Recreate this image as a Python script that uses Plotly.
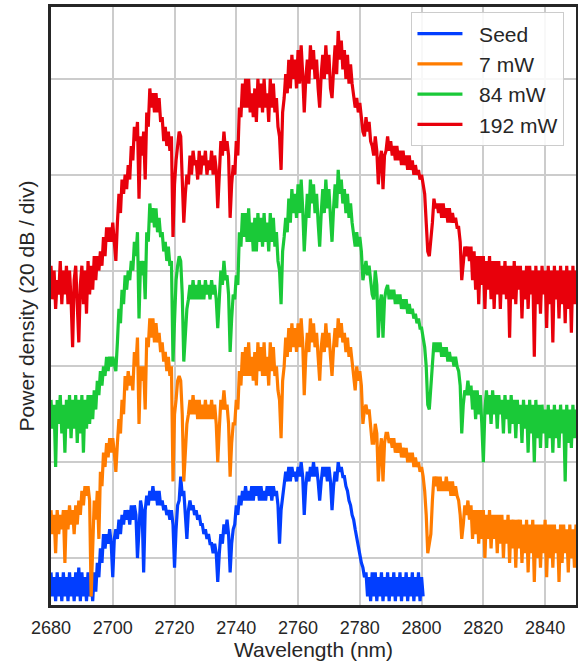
import plotly.graph_objects as go

# Wavelength sampling grid (nm), 0.5 nm spacing
wavelength = [2680 + 0.5 * i for i in range(341)]        # 2680 ... 2850
wavelength_seed = [2680 + 0.5 * i for i in range(242)]   # 2680 ... 2800.5

# Relative power density (dB, traces offset for clarity)
seed = [
    -3, -8, -4, -9, -3, -8, -4, -9, -3, -8,
    -4, -9, -3, -8, -4, -9, -3, -8, -2, -9,
    -3, -8, -4, -9, -3, -8, -4, -9, -3, -7,
    -1, -4, 2, -1, 5, 2, 5, 3, 6, 3,
    -4, 4, 6, 4, 8, 5, 9, 7, 10, 8,
    10, 7, 11, 8, 11, 9, 0, 8, 12, 10,
    -3, 10, 13, 11, 14, 12, 15, 12, 14, 11,
    14, 11, 12, 10, 11, 9, 10, 8, 10, 7,
    -2, 6, 11, 12, 17, 13, 14, 9, 4, 10,
    12, 10, 11, 9, 10, 8, 9, 7, 7, 5,
    6, 4, 5, 3, 3, 1, 3, 1, -5, 1,
    5, 3, 7, 5, 8, 5, -3, 3, 6, 7,
    11, 9, 13, 11, 14, 12, 15, 12, 14, 12,
    15, 12, 15, 13, 15, 12, 15, 12, 14, 12,
    15, 13, 15, 12, 15, 13, 14, 11, 3, 10,
    13, 15, 18, 16, 19, 16, 19, 17, 18, 16,
    19, 17, 20, 17, 9, 15, 18, 16, 19, 17,
    20, 17, 19, 16, 12, 16, 19, 17, 19, 16,
    19, 16, 10, 15, 18, 16, 20, 18, 19, 17,
    17, 15, 14, 12, 11, 9, 8, 6, 4, 2,
    1, -1, -2, -4, -3, -8, -4, -9, -3, -8,
    -3, -9, -4, -8, -3, -9, -4, -8, -3, -9,
    -4, -8, -3, -9, -4, -8, -3, -9, -4, -8,
    -3, -9, -4, -8, -3, -9, -4, -8, -3, -9,
    -4, -8,
]

p7mw = [
    10, 5, 9, 1, 10, 5, 9, 6, 10, -1,
    10, 6, 11, 7, 10, 5, 11, 7, 12, 9,
    14, 11, 15, 13, 15, 12, -8, 4, 12, 8,
    14, 4, 18, 15, 22, 19, 24, 21, 25, 22,
    25, 22, 18, 24, 29, 26, 33, 30, 38, 35,
    39, 36, 38, 35, 43, 40, 46, 28, 40, 37,
    40, 31, 46, 44, 50, 46, 50, 45, 49, 45,
    47, 43, 45, 41, 43, 39, 42, 38, 40, 16,
    30, 33, 37, 38, 37, 30, 16, 22, 28, 30,
    33, 30, 34, 30, 33, 29, 33, 29, 32, 29,
    33, 29, 32, 29, 33, 29, 32, 28, 20, 27,
    33, 31, 35, 31, 32, 28, 17, 24, 28, 28,
    33, 31, 39, 36, 43, 38, 44, 38, 45, 38,
    42, 37, 43, 36, 45, 39, 44, 38, 45, 38,
    42, 36, 45, 39, 44, 38, 40, 35, 33, 25,
    37, 40, 46, 42, 48, 43, 49, 44, 48, 43,
    49, 44, 50, 45, 34, 42, 47, 43, 50, 45,
    49, 44, 47, 42, 37, 44, 47, 43, 49, 44,
    47, 42, 38, 44, 48, 44, 50, 46, 49, 45,
    47, 43, 46, 42, 44, 41, 37, 35, 40, 37,
    39, 36, 28, 31, 32, 30, 31, 28, 24, 24,
    28, 26, 16, 22, 25, 16, 24, 26, 26, 24,
    25, 23, 25, 22, 24, 22, 24, 21, 23, 21,
    23, 20, 22, 20, 22, 19, 21, 19, 20, 18,
    19, 17, 14, 9, 1, 3, 5, 12, 17, 15,
    17, 14, 17, 14, 16, 14, 17, 14, 16, 13,
    16, 13, 15, 13, 12, 9, 4, 7, 11, 9,
    12, 8, 11, 4, 10, 5, 10, 3, 10, 4,
    10, 0, 9, 4, 10, 2, 9, 4, 9, 1,
    9, 3, 9, 0, 8, 3, 9, -1, 8, 2,
    8, -2, 8, 2, 8, -1, 7, 1, 8, -3,
    7, 1, 8, -5, 7, 0, 7, -2, 7, 1,
    8, -4, 7, 0, 7, -2, 7, 1, 6, -5,
    7, -1, 7, 1, 6, -3, 7, 0, 6, -2,
    7,
]

p84mw = [
    33, 27, 32, 19, 33, 28, 34, 26, 32, 22,
    33, 27, 34, 25, 33, 27, 34, 24, 33, 26,
    34, 22, 33, 27, 34, 28, 34, 29, 35, 31,
    37, 34, 39, 36, 40, 38, 42, 39, 42, 40,
    42, 40, 39, 45, 52, 49, 56, 53, 59, 56,
    60, 58, 62, 60, 66, 63, 68, 50, 62, 59,
    62, 54, 68, 66, 74, 70, 73, 69, 73, 68,
    71, 67, 68, 64, 66, 62, 65, 61, 62, 41,
    52, 58, 61, 63, 62, 55, 41, 46, 52, 54,
    57, 54, 58, 54, 57, 54, 58, 54, 57, 54,
    58, 55, 57, 54, 58, 55, 57, 54, 48, 54,
    60, 57, 62, 58, 59, 55, 43, 50, 55, 54,
    59, 57, 68, 65, 72, 67, 72, 66, 73, 66,
    70, 64, 71, 64, 72, 66, 71, 65, 72, 66,
    70, 64, 72, 66, 71, 65, 68, 62, 60, 53,
    64, 67, 71, 68, 75, 70, 77, 72, 76, 71,
    78, 72, 79, 73, 64, 70, 76, 71, 79, 74,
    78, 72, 76, 70, 65, 72, 77, 72, 79, 73,
    77, 71, 66, 73, 78, 73, 81, 76, 79, 74,
    77, 72, 76, 71, 74, 70, 68, 65, 68, 65,
    67, 64, 58, 60, 62, 59, 61, 58, 55, 54,
    60, 57, 46, 53, 55, 46, 54, 56, 57, 54,
    56, 54, 56, 53, 55, 53, 55, 52, 54, 52,
    54, 51, 53, 51, 52, 50, 51, 49, 50, 48,
    48, 46, 44, 40, 32, 31, 35, 40, 45, 43,
    45, 43, 45, 42, 44, 42, 44, 41, 43, 41,
    42, 40, 42, 40, 39, 36, 26, 32, 35, 34,
    37, 34, 36, 31, 35, 29, 35, 30, 34, 28,
    20, 31, 35, 30, 34, 28, 35, 30, 34, 27,
    34, 30, 33, 26, 34, 29, 33, 26, 34, 28,
    33, 25, 33, 28, 32, 24, 33, 27, 32, 22,
    33, 26, 32, 20, 33, 25, 32, 23, 32, 26,
    31, 23, 32, 25, 31, 22, 32, 25, 31, 23,
    32, 26, 31, 16, 32, 24, 31, 23, 32, 25,
    31,
]

p192mw = [
    61, 54, 60, 52, 58, 55, 62, 53, 60, 55,
    61, 53, 60, 54, 44, 58, 61, 54, 45, 57,
    61, 53, 60, 51, 62, 55, 61, 56, 63, 58,
    63, 60, 64, 61, 67, 63, 69, 66, 69, 66,
    70, 66, 62, 70, 76, 72, 79, 76, 80, 77,
    82, 79, 86, 83, 90, 87, 91, 75, 88, 84,
    89, 79, 93, 90, 98, 94, 97, 93, 97, 93,
    96, 91, 92, 87, 90, 86, 89, 85, 88, 67,
    78, 83, 86, 89, 88, 80, 70, 76, 80, 78,
    84, 80, 85, 82, 83, 79, 85, 80, 84, 82,
    85, 80, 83, 81, 85, 80, 84, 81, 73, 80,
    87, 84, 89, 85, 87, 84, 71, 78, 82, 80,
    87, 84, 94, 92, 99, 94, 100, 94, 100, 93,
    97, 92, 98, 91, 100, 94, 99, 93, 100, 94,
    97, 91, 100, 94, 99, 93, 96, 90, 88, 81,
    93, 96, 101, 97, 104, 98, 105, 100, 104, 98,
    106, 99, 107, 101, 93, 100, 104, 99, 107, 102,
    106, 100, 104, 98, 94, 101, 105, 100, 107, 101,
    105, 98, 96, 102, 107, 101, 110, 104, 108, 102,
    106, 100, 105, 99, 103, 99, 97, 94, 96, 93,
    95, 92, 89, 88, 92, 89, 91, 87, 86, 84,
    88, 85, 78, 83, 85, 77, 84, 85, 88, 85,
    87, 84, 86, 83, 86, 83, 85, 82, 85, 82,
    84, 81, 84, 81, 83, 80, 82, 80, 81, 79,
    80, 78, 76, 70, 64, 63, 66, 70, 75, 73,
    74, 72, 74, 71, 74, 71, 73, 70, 73, 70,
    72, 70, 71, 69, 69, 66, 58, 62, 65, 63,
    65, 62, 65, 58, 64, 56, 63, 53, 63, 57,
    63, 52, 62, 56, 63, 54, 62, 52, 62, 55,
    62, 52, 61, 55, 62, 54, 61, 46, 61, 54,
    62, 53, 61, 56, 61, 50, 60, 54, 61, 52,
    61, 55, 60, 42, 61, 53, 60, 51, 61, 55,
    60, 48, 61, 53, 60, 45, 61, 54, 60, 50,
    61, 53, 60, 49, 61, 52, 60, 47, 61, 53,
    60,
]

series_names = ["Seed", "7 mW", "84 mW", "192 mW"]
series_colors = ["#023eff", "#ff7c00", "#1ac938", "#e8000b"]
series_x = [wavelength_seed, wavelength, wavelength, wavelength]
series_y = [seed, p7mw, p84mw, p192mw]

x_ticks = [2680, 2700, 2720, 2740, 2760, 2780, 2800, 2820, 2840]

FONT = "Liberation Sans, Arial, Helvetica, sans-serif"
TXT = "#262626"
GAP = "\u00a0\u00a0"  # spacing between legend sample line and its label

fig = go.Figure()
for name, col, xs, ys in zip(series_names, series_colors, series_x, series_y):
    n = min(len(xs), len(ys))
    fig.add_trace(go.Scatter(
        x=xs[:n], y=ys[:n], mode="lines", name=GAP + name, legendgroup=name,
        line=dict(color=col, width=3.2),
    ))

fig.update_layout(
    width=578, height=662,
    margin=dict(l=51, r=2, t=7, b=57, autoexpand=False),
    paper_bgcolor="white", plot_bgcolor="white",
    font=dict(family=FONT, color=TXT, size=18),
    showlegend=True,
    legend=dict(
        x=0.978, y=0.991, xanchor="right", yanchor="top",
        bgcolor="rgba(255,255,255,0.85)", bordercolor="#cccccc", borderwidth=1,
        font=dict(size=21, family=FONT, color=TXT),
        tracegroupgap=0, itemwidth=45,
    ),
)
fig.update_xaxes(
    range=[2680, 2850], tickvals=x_ticks, ticktext=[str(v) for v in x_ticks],
    showgrid=True, gridcolor="#cccccc", gridwidth=1.5,
    showline=True, linecolor=TXT, linewidth=2.5, mirror=True,
    ticks="", tickfont=dict(size=18), zeroline=False, ticklabelstandoff=5,
    title=dict(text="Wavelength (nm)", font=dict(size=21), standoff=4),
)
fig.update_yaxes(
    range=[-9.8, 115], tick0=0, dtick=20, showticklabels=False,
    showgrid=True, gridcolor="#cccccc", gridwidth=1.5,
    showline=True, linecolor=TXT, linewidth=2.5, mirror=True,
    ticks="", zeroline=False,
    title=dict(text="Power density (20 dB / div)", font=dict(size=21), standoff=8),
)

fig.write_html(
    "out.html",
    config={"displayModeBar": False},
    post_script="document.body.style.margin='0px';document.body.style.overflow='hidden';",
)
